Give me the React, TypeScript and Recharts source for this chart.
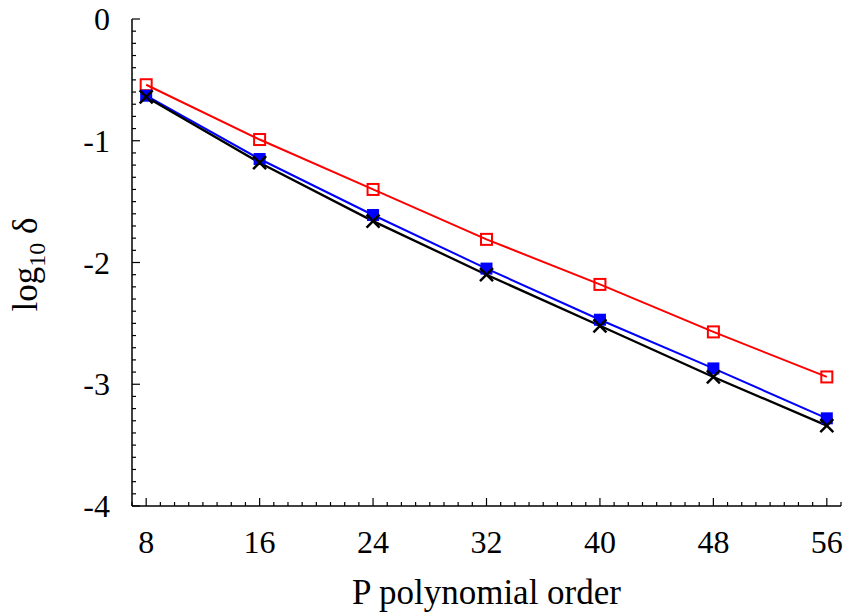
import { LineChart, Line, XAxis, YAxis } from "recharts";

const orders = [8, 16, 24, 32, 40, 48, 56];
const redSeries = [-0.54, -0.99, -1.4, -1.81, -2.18, -2.57, -2.94];
const blueSeries = [-0.63, -1.15, -1.61, -2.05, -2.47, -2.87, -3.28];
const blackSeries = [-0.64, -1.18, -1.66, -2.1, -2.52, -2.94, -3.34];

const xMajor = [8, 16, 24, 32, 40, 48, 56];
const yMajor = [0, -1, -2, -3, -4];
const xDomain = [7, 57];
const yDomain = [-4, 0];

// minor ticks: every 1 on x, every 0.1 on y
const xTicks: number[] = [];
for (let v = xDomain[0]; v <= xDomain[1]; v++) xTicks.push(v);
const yTicks: number[] = [];
for (let i = 0; i <= 40; i++) yTicks.push(Math.round((yDomain[0] + i * 0.1) * 10) / 10);

const data = orders.map((p, i) => ({
  p,
  red: redSeries[i],
  blue: blueSeries[i],
  black: blackSeries[i],
}));

const FONT = "'Liberation Serif', 'Times New Roman', serif";
const TICK_FONT = 32;
const LABEL_FONT = 35;

const isMajorX = (v: number) => xMajor.includes(v);
const isMajorY = (v: number) => yMajor.some((m) => Math.abs(m - v) < 1e-6);

function BottomTick(props: any) {
  const { x, y, payload } = props;
  const v = payload.value;
  const major = isMajorX(v);
  return (
    <g>
      <line x1={x} x2={x} y1={y} y2={y - (major ? 8 : 4)} stroke="#000" strokeWidth={1.2} />
      {major && (
        <text x={x} y={y + 47} textAnchor="middle" fontSize={TICK_FONT} fontFamily={FONT} fill="#000">
          {v}
        </text>
      )}
    </g>
  );
}

function TopTick(props: any) {
  const { x, y, payload } = props;
  const major = isMajorX(payload.value);
  return <line x1={x} x2={x} y1={y} y2={y + (major ? 8 : 4)} stroke="#000" strokeWidth={1.2} />;
}

function LeftTick(props: any) {
  const { x, y, payload } = props;
  const v = payload.value;
  const major = isMajorY(v);
  return (
    <g>
      <line x1={x} x2={x + (major ? 8 : 4)} y1={y} y2={y} stroke="#000" strokeWidth={1.2} />
      {major && (
        <text x={x - 22} y={y} dy="0.35em" textAnchor="end" fontSize={TICK_FONT} fontFamily={FONT} fill="#000">
          {Math.round(v)}
        </text>
      )}
    </g>
  );
}

function RightTick(props: any) {
  const { x, y, payload } = props;
  const major = isMajorY(payload.value);
  return <line x1={x} x2={x - (major ? 8 : 4)} y1={y} y2={y} stroke="#000" strokeWidth={1.2} />;
}

function XLabel(props: any) {
  const vb = props.viewBox || { x: 132, y: 506, width: 709, height: 107 };
  return (
    <text
      x={vb.x + vb.width / 2}
      y={vb.y + 98}
      textAnchor="middle"
      fontSize={LABEL_FONT}
      fontFamily={FONT}
      fill="#000"
    >
      P polynomial order
    </text>
  );
}

function YLabel(props: any) {
  const vb = props.viewBox || { x: 0, y: 19, width: 132, height: 487 };
  const cx = vb.x + 37;
  const cy = vb.y + vb.height / 2 + 2;
  return (
    <text
      x={cx}
      y={cy}
      transform={`rotate(-90, ${cx}, ${cy})`}
      textAnchor="middle"
      fontSize={LABEL_FONT}
      fontFamily={FONT}
      fill="#000"
    >
      log
      <tspan fontSize={24} dy={8}>10</tspan>
      <tspan dy={-8}> δ</tspan>
    </text>
  );
}

function OpenSquare(props: any) {
  const { cx, cy } = props;
  return <rect key={props.key ?? `r${cx}`} x={cx - 5.5} y={cy - 5.5} width={11} height={11} fill="none" stroke="#ff0000" strokeWidth={2} />;
}

function FilledSquare(props: any) {
  const { cx, cy } = props;
  return <rect key={props.key ?? `b${cx}`} x={cx - 6} y={cy - 6} width={12} height={12} fill="#0000ff" />;
}

function Cross(props: any) {
  const { cx, cy } = props;
  const s = 6.5;
  return (
    <g key={props.key ?? `k${cx}`}>
      <line x1={cx - s} y1={cy - s} x2={cx + s} y2={cy + s} stroke="#000" strokeWidth={2.5} />
      <line x1={cx - s} y1={cy + s} x2={cx + s} y2={cy - s} stroke="#000" strokeWidth={2.5} />
    </g>
  );
}

export default function App() {
  return (
    <div style={{ position: "absolute", left: 0, top: 0, width: 851, height: 613, background: "#fff" }}>
      <LineChart width={851} height={613} data={data} margin={{ top: 19, right: 10, bottom: 0, left: 0 }}>
        <XAxis
          dataKey="p"
          type="number"
          domain={xDomain}
          ticks={xTicks}
          interval={0}
          allowDataOverflow
          height={107}
          tickSize={0}
          tickMargin={0}
          tickLine={false}
          axisLine={{ stroke: "#000", strokeWidth: 1.5 }}
          tick={<BottomTick />}
          label={{ content: (p: any) => <XLabel {...p} /> }}
        />
        <XAxis
          xAxisId="top"
          orientation="top"
          dataKey="p"
          type="number"
          domain={xDomain}
          ticks={xTicks}
          interval={0}
          allowDataOverflow
          height={0}
          tickSize={0}
          tickMargin={0}
          tickLine={false}
          axisLine={{ stroke: "#000", strokeWidth: 1.5 }}
          tick={<TopTick />}
        />
        <YAxis
          type="number"
          domain={yDomain}
          ticks={yTicks}
          interval={0}
          allowDataOverflow
          width={132}
          tickSize={0}
          tickMargin={0}
          tickLine={false}
          axisLine={{ stroke: "#000", strokeWidth: 1.5 }}
          tick={<LeftTick />}
          label={{ content: (p: any) => <YLabel {...p} /> }}
        />
        <YAxis
          yAxisId="right"
          orientation="right"
          type="number"
          domain={yDomain}
          ticks={yTicks}
          interval={0}
          allowDataOverflow
          width={0}
          tickSize={0}
          tickMargin={0}
          tickLine={false}
          axisLine={{ stroke: "#000", strokeWidth: 1.5 }}
          tick={<RightTick />}
        />
        <Line
          dataKey="red"
          stroke="#ff0000"
          strokeWidth={2}
          dot={(p: any) => <OpenSquare {...p} />}
          activeDot={false}
          isAnimationActive={false}
        />
        <Line
          dataKey="blue"
          stroke="#0000ff"
          strokeWidth={2}
          dot={(p: any) => <FilledSquare {...p} />}
          activeDot={false}
          isAnimationActive={false}
        />
        <Line
          dataKey="black"
          stroke="#000"
          strokeWidth={2.3}
          dot={(p: any) => <Cross {...p} />}
          activeDot={false}
          isAnimationActive={false}
        />
      </LineChart>
    </div>
  );
}
